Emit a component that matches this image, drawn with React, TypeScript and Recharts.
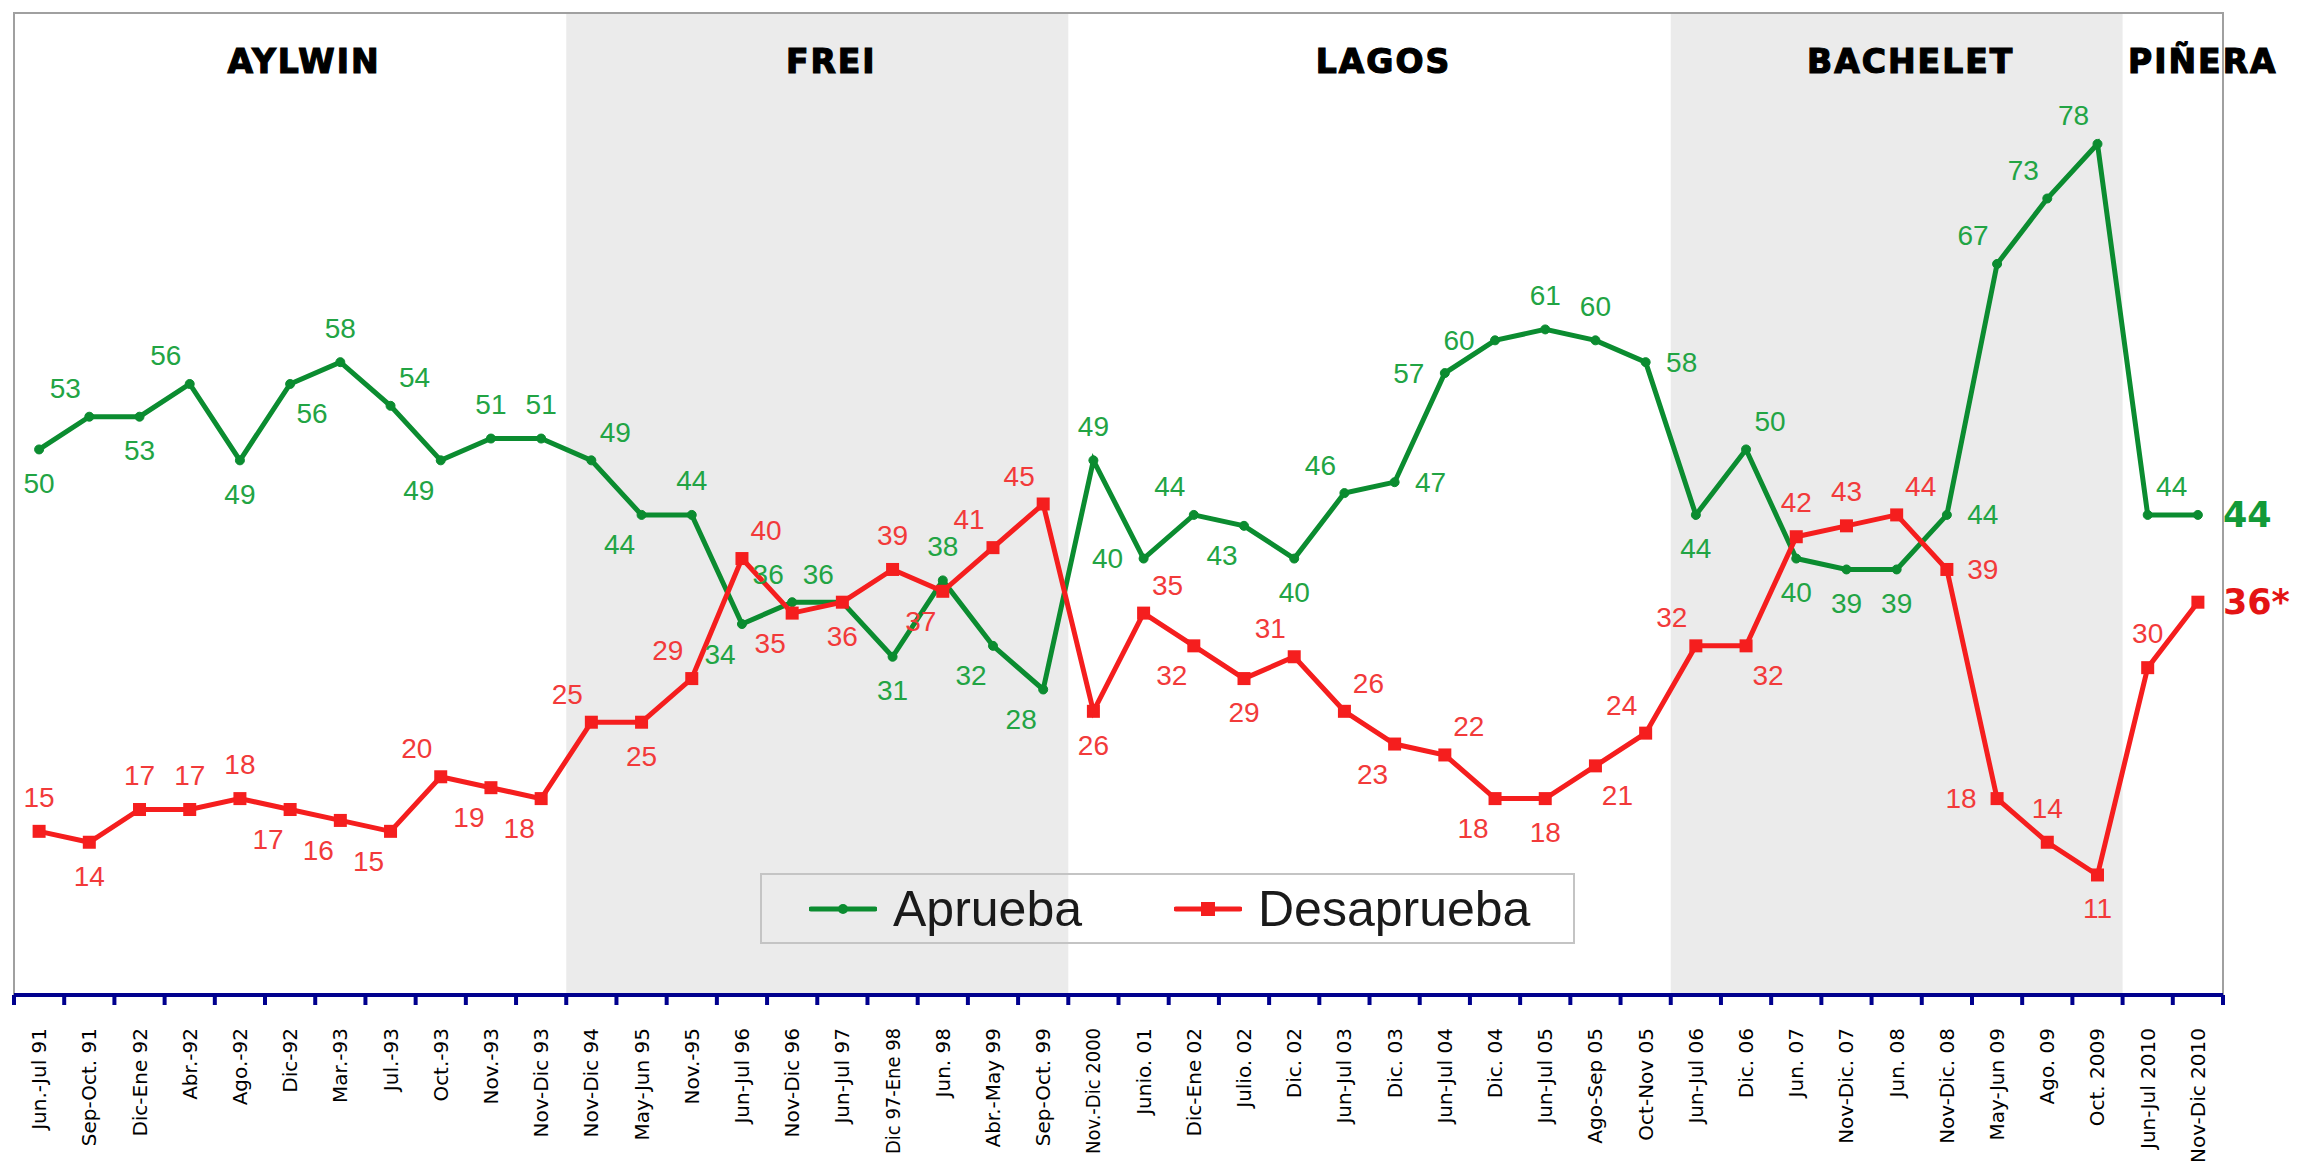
import React from 'react';
import { LineChart, Line, XAxis, YAxis, ReferenceArea, LabelList, Legend } from 'recharts';

// Periodos de la encuesta (eje X)
const periodos = [
  'Jun.-Jul 91', 'Sep-Oct. 91', 'Dic-Ene 92', 'Abr.-92', 'Ago.-92', 'Dic-92', 'Mar.-93', 'Jul.-93', 'Oct.-93', 'Nov.-93', 'Nov-Dic 93',
  'Nov-Dic 94', 'May-Jun 95', 'Nov.-95', 'Jun-Jul 96', 'Nov-Dic 96', 'Jun-Jul 97', 'Dic 97-Ene 98', 'Jun. 98', 'Abr.-May 99', 'Sep-Oct. 99',
  'Nov.-Dic 2000', 'Junio. 01', 'Dic-Ene 02', 'Julio. 02', 'Dic. 02', 'Jun-Jul 03', 'Dic. 03', 'Jun-Jul 04', 'Dic. 04', 'Jun-Jul 05',
  'Ago-Sep 05', 'Oct-Nov 05',
  'Jun-Jul 06', 'Dic. 06', 'Jun. 07', 'Nov-Dic. 07', 'Jun. 08', 'Nov-Dic. 08', 'May-Jun 09', 'Ago. 09', 'Oct. 2009',
  'Jun-Jul 2010', 'Nov-Dic 2010',
];

const aprueba = [
  50, 53, 53, 56, 49, 56, 58, 54, 49, 51, 51,
  49, 44, 44, 34, 36, 36, 31, 38, 32, 28,
  49, 40, 44, 43, 40, 46, 47, 57, 60, 61, 60, 58,
  44, 50, 40, 39, 39, 44, 67, 73, 78,
  44, 44,
];

const desaprueba = [
  15, 14, 17, 17, 18, 17, 16, 15, 20, 19, 18,
  25, 25, 29, 40, 35, 36, 39, 37, 41, 45,
  26, 35, 32, 29, 31, 26, 23, 22, 18, 18, 21, 24,
  32, 32, 42, 43, 44, 39, 18, 14, 11,
  30, 36,
];

// Gobiernos: índice de inicio y fin sobre los periodos
const gobiernos = ['AYLWIN', 'FREI', 'LAGOS', 'BACHELET', 'PIÑERA'];
const inicioGobierno = [0, 11, 21, 33, 42];
const finGobierno = [11, 21, 33, 42, 44];
const sombreado = [false, true, false, true, false];

const series = ['Aprueba', 'Desaprueba'];

// lado de cada etiqueta de dato
const ladoAprueba = [
  'b', 'al', 'b', 'al', 'b', 'br', 'a', 'ar', 'bl', 'a', 'a',
  'ar', 'bl', 'a', 'bl', 'al', 'al', 'b', 'a', 'bl', 'bl',
  'a', 'l', 'al', 'bl', 'b', 'al', 'r', 'l', 'l', 'a', 'a', 'r',
  'b', 'ar', 'b', 'b', 'b', 'r', 'al', 'al', 'al',
  'ar', 'fin',
];
const ladoDesaprueba = [
  'a', 'b', 'a', 'a', 'a', 'bl', 'bl', 'bl', 'al', 'bl', 'bl',
  'al', 'b', 'al', 'ar', 'bl', 'b', 'a', 'bl', 'al', 'al',
  'b', 'ar', 'bl', 'b', 'al', 'ar', 'bl', 'ar', 'bl', 'b', 'br', 'al',
  'al', 'br', 'a', 'a', 'ar', 'r', 'l', 'a', 'b',
  'a', 'fin',
];

const VERDE = '#0B8C30';
const VERDE_TXT = '#22A444';
const ROJO = '#F51E1E';
const ROJO_TXT = '#F23A3A';
const AZUL = '#00008E';

const DESPLAZ: Record<string, [number, number]> = {
  a: [0, -34], b: [0, 34], l: [-36, 0], r: [36, 0],
  al: [-24, -28], ar: [24, -28], bl: [-22, 30], br: [22, 30],
};

const filas = periodos.map((periodo, i) => ({
  periodo,
  pos: i + 0.5,
  aprueba: aprueba[i],
  desaprueba: desaprueba[i],
}));

const marcas = Array.from({ length: periodos.length * 2 + 1 }, (_, k) => k / 2);

const EjeTick = (props: any) => {
  const { x, y, payload } = props;
  const v = payload.value;
  if (Number.isInteger(v)) {
    return <line x1={x} y1={y} x2={x} y2={y + 10} stroke={AZUL} strokeWidth={4} />;
  }
  const ty = y + 33;
  const texto = periodos[Math.floor(v)];
  const largo = texto.length >= 13 ? { textLength: 126, lengthAdjust: 'spacingAndGlyphs' } : {};
  return (
    <text
      x={x}
      y={ty}
      transform={`rotate(-90 ${x} ${ty})`}
      textAnchor="end"
      dominantBaseline="central"
      fontFamily="DejaVu Sans, Verdana, sans-serif"
      fontSize={20}
      fill="#000"
      {...largo}
    >
      {texto}
    </text>
  );
};

const etiqueta = (lados: string[], color: string, sufijo: string) => (props: any) => {
  const { x, y, value, index } = props;
  const lado = lados[index];
  if (lado === 'fin') {
    return (
      <text x={x + 25} y={y} dominantBaseline="central" fontFamily="DejaVu Sans, sans-serif"
        fontWeight="bold" fontSize={35} fill={color === VERDE_TXT ? '#129A38' : '#E41414'}>
        {`${value}${sufijo}`}
      </text>
    );
  }
  const [dx, dy] = DESPLAZ[lado];
  return (
    <text x={x + dx} y={y + dy} textAnchor="middle" dominantBaseline="central"
      fontFamily="Liberation Sans, Arial, sans-serif" fontSize={28} fill={color}>
      {value}
    </text>
  );
};

const Leyenda = () => (
  <div style={{
    position: 'relative', width: 815, height: 71, border: '2px solid #C4C4C4', boxSizing: 'border-box',
    fontFamily: 'Liberation Sans, Arial, sans-serif', fontSize: 50, color: '#1a1a1a',
  }}>
    {series.map((nombre, i) => (
      <div key={nombre} style={{ position: 'absolute', left: i === 0 ? 47 : 412, top: 0, height: 67, display: 'flex', alignItems: 'center' }}>
        <svg width={68} height={20} style={{ marginRight: 16 }}>
          <line x1={2} y1={10} x2={66} y2={10} stroke={i === 0 ? VERDE : ROJO} strokeWidth={5} strokeLinecap="round" />
          {i === 0
            ? <circle cx={34} cy={10} r={5} fill={VERDE} />
            : <rect x={27} y={3} width={14} height={14} fill={ROJO} />}
        </svg>
        <span style={{ lineHeight: 1 }}>{nombre}</span>
      </div>
    ))}
  </div>
);

export default function App() {
  return (
    <div style={{ position: 'absolute', left: 0, top: 0, width: 2302, height: 1165, background: '#fff' }}>
      <LineChart width={2302} height={1165} data={filas} margin={{ top: 13, right: 79, left: 14, bottom: 0 }}>
        <XAxis
          dataKey="pos"
          type="number"
          domain={[0, periodos.length]}
          ticks={marcas}
          interval={0}
          height={170}
          tickLine={false}
          tickSize={0}
          tickMargin={0}
          tick={<EjeTick />}
          axisLine={{ stroke: AZUL, strokeWidth: 4 }}
        />
        <YAxis hide type="number" domain={[0, 90]} />
        {gobiernos.map((g, i) => (
          <ReferenceArea
            key={g}
            x1={inicioGobierno[i]}
            x2={finGobierno[i]}
            y1={0}
            y2={90}
            fill={sombreado[i] ? '#EBEBEB' : 'none'}
            fillOpacity={1}
            stroke="none"
            label={(p: any) => (
              <text
                x={p.viewBox.x + p.viewBox.width / 2 + (i === gobiernos.length - 1 ? 30 : 14)}
                y={p.viewBox.y + 60}
                textAnchor="middle"
                fontFamily="DejaVu Sans, sans-serif"
                fontWeight="bold"
                fontSize={33}
                letterSpacing={2}
                stroke="#000"
                strokeWidth={1.2}
                fill="#000"
              >
                {g}
              </text>
            )}
          />
        ))}
        <ReferenceArea x1={0} x2={periodos.length} y1={0} y2={90} fill="none" stroke="#A0A0A0" strokeWidth={2} />
        <Legend verticalAlign="middle" layout="horizontal" content={<Leyenda />}
          wrapperStyle={{ left: 760, top: 873, width: 815, height: 71 }} />
        <Line
          type="linear"
          dataKey="aprueba"
          name="Aprueba"
          stroke={VERDE}
          strokeWidth={5}
          dot={{ r: 4.5, fill: VERDE, stroke: VERDE, strokeWidth: 1 }}
          activeDot={false}
          isAnimationActive={false}
        >
          <LabelList dataKey="aprueba" content={etiqueta(ladoAprueba, VERDE_TXT, '')} />
        </Line>
        <Line
          type="linear"
          dataKey="desaprueba"
          name="Desaprueba"
          stroke={ROJO}
          strokeWidth={5}
          dot={(p: any) => <rect key={`d${p.index}`} x={p.cx - 6.5} y={p.cy - 6.5} width={13} height={13} fill={ROJO} />}
          activeDot={false}
          isAnimationActive={false}
        >
          <LabelList dataKey="desaprueba" content={etiqueta(ladoDesaprueba, ROJO_TXT, '*')} />
        </Line>
      </LineChart>
    </div>
  );
}
